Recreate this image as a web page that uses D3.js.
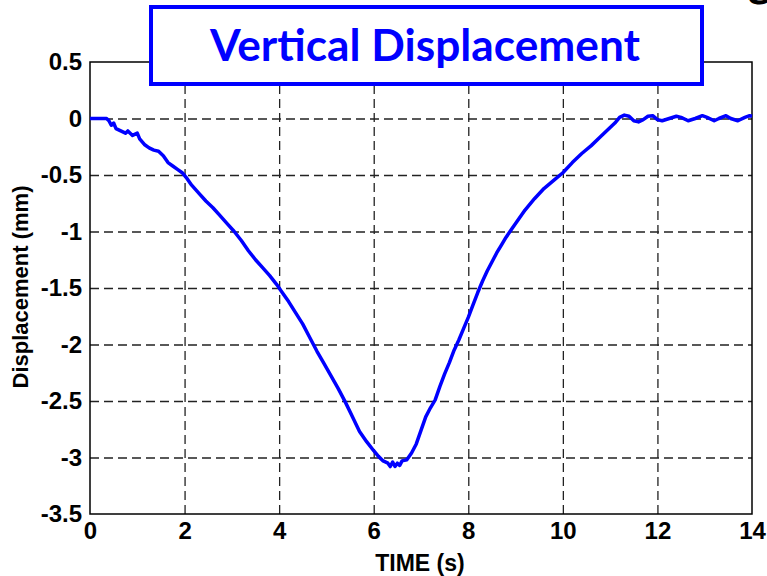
<!DOCTYPE html>
<html>
<head>
<meta charset="utf-8">
<script src="https://cdn.jsdelivr.net/npm/d3@7"></script>
<style>
  html, body { margin: 0; padding: 0; background: #fff; }
  svg { display: block; }
</style>
</head>
<body>
<svg id="chart" width="767" height="576"></svg>
<script>
// ---- data ----
const timeValues = [
  0, 0.2, 0.35, 0.40, 0.45, 0.50, 0.55, 0.65, 0.75, 0.80, 0.90, 1.00, 1.05, 1.15, 1.25, 1.35, 1.45,
  1.55, 1.65, 1.75, 1.85, 1.95, 2.05, 2.15, 2.30, 2.45, 2.60, 2.75, 2.90, 3.05, 3.20, 3.35, 3.50,
  3.65, 3.80, 3.95, 4.05, 4.20, 4.35, 4.50, 4.65, 4.80, 4.95, 5.10, 5.25, 5.40, 5.55, 5.70, 5.85,
  6.00, 6.10, 6.20, 6.30, 6.35, 6.40, 6.45, 6.50, 6.55, 6.60, 6.70, 6.80, 6.90, 7.00, 7.10, 7.20,
  7.30, 7.40, 7.50, 7.60, 7.70, 7.80, 7.90, 8.00, 8.10, 8.20, 8.30, 8.40, 8.50, 8.60, 8.70, 8.80,
  8.90, 9.00, 9.20, 9.40, 9.60, 9.80, 10.00, 10.20, 10.40, 10.60, 10.80, 11.00, 11.10, 11.20, 11.30,
  11.40, 11.50, 11.60, 11.70, 11.80, 11.90, 12.00, 12.10, 12.25, 12.40, 12.50, 12.65, 12.80, 12.95,
  13.05, 13.20, 13.30, 13.45, 13.55, 13.70, 13.85, 13.95, 14.00
];
const displacementValues = [
  0, 0, 0, -0.02, -0.06, -0.04, -0.09, -0.11, -0.13, -0.11, -0.15, -0.13, -0.18, -0.23, -0.26, -0.28, -0.29,
  -0.33, -0.39, -0.42, -0.45, -0.48, -0.53, -0.59, -0.66, -0.73, -0.79, -0.86, -0.93, -1.00, -1.08, -1.17, -1.25,
  -1.32, -1.39, -1.47, -1.53, -1.62, -1.72, -1.82, -1.94, -2.06, -2.17, -2.28, -2.39, -2.51, -2.64, -2.77, -2.86,
  -2.94, -2.99, -3.03, -3.05, -3.08, -3.04, -3.08, -3.05, -3.07, -3.03, -3.02, -2.96, -2.88, -2.76, -2.64, -2.56,
  -2.49, -2.37, -2.26, -2.16, -2.05, -1.96, -1.86, -1.76, -1.65, -1.54, -1.44, -1.35, -1.27, -1.19, -1.12, -1.05,
  -0.99, -0.93, -0.81, -0.71, -0.62, -0.55, -0.48, -0.39, -0.31, -0.24, -0.16, -0.08, -0.04, 0.01, 0.03,
  0.02, -0.02, -0.03, -0.01, 0.02, 0.025, -0.01, -0.02, 0.00, 0.02, 0.01, -0.02, 0.00, 0.025,
  0.01, -0.02, 0.00, 0.025, 0.00, -0.02, 0.01, 0.025, 0.02
];
const xTicks = [0, 2, 4, 6, 8, 10, 12, 14];
const xTickLabels = ["0", "2", "4", "6", "8", "10", "12", "14"];
const yTicks = [0.5, 0, -0.5, -1, -1.5, -2, -2.5, -3, -3.5];
const yTickLabels = ["0.5", "0", "-0.5", "-1", "-1.5", "-2", "-2.5", "-3", "-3.5"];
const titleText = "Vertical Displacement";
const xLabel = "TIME (s)";
const yLabel = "Displacement (mm)";

// ---- layout ----
const svg = d3.select("#chart");
const plotL = 90, plotR = 752, plotT = 62, plotB = 514;
const W = plotR - plotL, H = plotB - plotT;
const font = "'Liberation Sans', Arial, sans-serif";

const x = d3.scaleLinear().domain([0, 14]).range([plotL, plotR]);
const y = d3.scaleLinear().domain([-3.5, 0.5]).range([plotB, plotT]);

// grid
const gx = svg.append("g").attr("transform", `translate(0,${plotB})`)
  .call(d3.axisBottom(x).tickValues(xTicks.filter(t => t > 0 && t < 14)).tickSize(-H).tickFormat(""));
gx.select(".domain").remove();
gx.selectAll("line").attr("stroke", "#222").attr("stroke-width", 1.3).attr("stroke-dasharray", "9,5");

const gy = svg.append("g").attr("transform", `translate(${plotL},0)`)
  .call(d3.axisLeft(y).tickValues(yTicks.filter(t => t < 0.5 && t > -3.5)).tickSize(-W).tickFormat(""));
gy.select(".domain").remove();
gy.selectAll("line").attr("stroke", "#222").attr("stroke-width", 1.3).attr("stroke-dasharray", "9,5");

// frame
svg.append("rect").attr("x", plotL).attr("y", plotT).attr("width", W).attr("height", H)
  .attr("fill", "none").attr("stroke", "#000").attr("stroke-width", 1.5);

// tick labels
const ax = svg.append("g").attr("transform", `translate(0,${plotB})`)
  .call(d3.axisBottom(x).tickValues(xTicks).tickSize(0).tickPadding(8)
    .tickFormat((d, i) => xTickLabels[i]));
ax.select(".domain").remove();
ax.selectAll("text").attr("font-family", font).attr("font-size", 24).attr("font-weight", "bold").attr("fill", "#000");

const ay = svg.append("g").attr("transform", `translate(${plotL},0)`)
  .call(d3.axisLeft(y).tickValues(yTicks).tickSize(0).tickPadding(8)
    .tickFormat((d, i) => yTickLabels[i]));
ay.select(".domain").remove();
ay.selectAll("text").attr("font-family", font).attr("font-size", 24).attr("font-weight", "bold").attr("fill", "#000");

// data line
const pts = timeValues.map((t, i) => [t, displacementValues[i]]);
svg.append("path").datum(pts)
  .attr("fill", "none").attr("stroke", "#0000ff").attr("stroke-width", 3.5)
  .attr("stroke-linejoin", "round")
  .attr("d", d3.line().x(d => x(d[0])).y(d => y(d[1])));

// axis labels
svg.append("text").attr("x", 420).attr("y", 571).attr("text-anchor", "middle")
  .attr("font-family", font).attr("font-size", 23).attr("font-weight", "bold").text(xLabel);
svg.append("text").attr("transform", "translate(28,287) rotate(-90)").attr("text-anchor", "middle")
  .attr("font-family", font).attr("font-size", 22).attr("font-weight", "bold").text(yLabel);

// title box
svg.append("rect").attr("x", 151).attr("y", 7).attr("width", 551).attr("height", 77)
  .attr("fill", "#fff").attr("stroke", "#0000ff").attr("stroke-width", 4);
svg.append("text").attr("x", 425).attr("y", 61).attr("text-anchor", "middle")
  .attr("font-family", "Lato, 'Open Sans', sans-serif").attr("font-size", 44).attr("font-weight", "bold")
  .attr("fill", "#0000ff").attr("textLength", 430).attr("lengthAdjust", "spacingAndGlyphs").text(titleText);

// fragment of a glyph cut off at the top-right corner (as in the reference)
svg.append("text").attr("x", 748).attr("y", -4)
  .attr("font-family", "Lato, sans-serif").attr("font-size", 46).attr("font-weight", "bold")
  .attr("fill", "#000").text("g");
</script>
</body>
</html>
